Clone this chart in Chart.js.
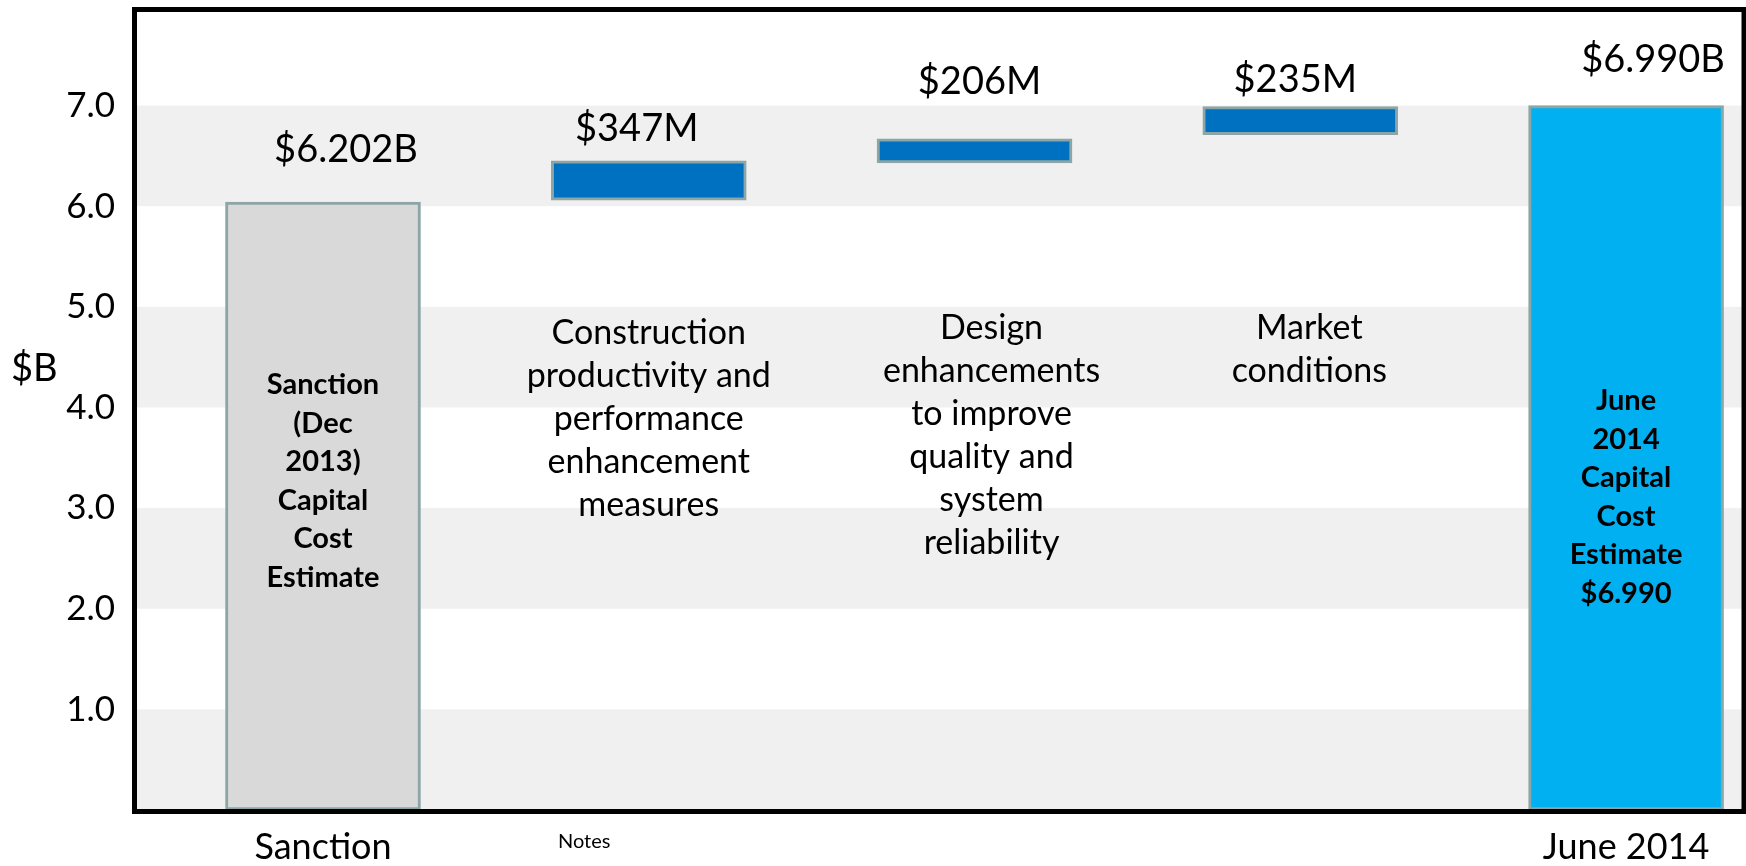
<!DOCTYPE html>
<html>
<head>
<meta charset="utf-8">
<script src="https://cdn.jsdelivr.net/npm/chart.js@4/dist/chart.umd.min.js"></script>
<style>
  html, body { margin: 0; background: #fff; overflow: hidden; }
  #wrap { width: 1746px; height: 866px; }
</style>
</head>
<body>
<div id="wrap"><canvas id="waterfall-chart"></canvas></div>
<script>
// bar positions on the x axis (0 = Sanction, 4 = June 2014)
const barSlots = [0, 1, 2, 3, 4];
const xTickLabels = ['Sanction', '', '', '', 'June 2014'];
// floating bars [low, high] in $B, as drawn
const barRanges = [[0, 6.04], [6.06, 6.45], [6.43, 6.67], [6.71, 6.99], [0, 7.0]];
const valueLabels = ['$6.202B', '$347M', '$206M', '$235M', '$6.990B'];
const insideLabels = [
    ['Sanction', '(Dec', '2013)', 'Capital', 'Cost', 'Estimate'],
    [], [], [],
    ['June', '2014', 'Capital', 'Cost', 'Estimate', '$6.990']
];
const descLabels = [
    [],
    ['Construction', 'productivity and', 'performance', 'enhancement', 'measures'],
    ['Design', 'enhancements', 'to improve', 'quality and', 'system', 'reliability'],
    ['Market', 'conditions'],
    []
];
const yTickValues = [1, 2, 3, 4, 5, 6, 7];

const FONT = 'Lato, "Open Sans", sans-serif';
const barFill = ['#d9d9d9', '#0070c0', '#0070c0', '#0070c0', '#00b0f0'];

// label placement tweaks (px, relative to the bar centre / top)
const valueOffsets = [[23, -52], [-12, -32], [5, -57], [-5, -27], [27, -46]];
const descOffsets = [[0, 0], [0, 333], [17, 328], [9, 328], [0, 0]];
const insideTop = [385, 0, 0, 0, 401];

const decorPlugin = {
    id: 'decor',
    beforeDatasetsDraw(chart) {
        const { ctx, scales: { x, y } } = chart;
        ctx.save();
        ctx.fillStyle = '#f0f0f0';
        // alternate grey bands: 0-1, 2-3, 4-5, 6-7
        [0].concat(yTickValues).forEach(v => {
            if (v % 2 === 0 && v < 7) {
                const top = y.getPixelForValue(v + 1);
                const bot = y.getPixelForValue(v);
                ctx.fillRect(x.left, top, x.right - x.left, bot - top);
            }
        });
        ctx.restore();
    },
    afterDatasetsDraw(chart) {
        const { ctx, scales: { x, y } } = chart;
        ctx.save();
        ctx.fillStyle = '#000';
        ctx.textAlign = 'center';
        ctx.textBaseline = 'middle';
        barSlots.forEach((slot, i) => {
            const cx = x.getPixelForValue(slot);
            const topPx = y.getPixelForValue(barRanges[i][1]);
            ctx.font = '38px ' + FONT;
            ctx.fillText(valueLabels[i], cx + valueOffsets[i][0], topPx + valueOffsets[i][1]);

            ctx.font = '34px ' + FONT;
            descLabels[i].forEach((line, k) => {
                ctx.fillText(line, cx + descOffsets[i][0], descOffsets[i][1] + k * 43);
            });

            ctx.font = 'bold 29px ' + FONT;
            insideLabels[i].forEach((line, k) => {
                ctx.fillText(line, cx, insideTop[i] + k * 38.5);
            });
        });

        // frame
        ctx.strokeStyle = '#000';
        ctx.lineWidth = 5;
        ctx.strokeRect(x.left - 1.5, y.top - 0.5, x.right - x.left + 1.5, y.bottom - y.top + 2);

        // y unit and notes
        ctx.font = '38px ' + FONT;
        ctx.textAlign = 'left';
        ctx.fillText('$B', 11, 369);
        ctx.font = '20px ' + FONT;
        ctx.fillText('Notes', 558, 842);
        ctx.restore();
    }
};

new Chart(document.getElementById('waterfall-chart').getContext('2d'), {
    type: 'bar',
    data: {
        datasets: [{
            data: barSlots.map((s, i) => ({ x: s, y: barRanges[i] })),
            backgroundColor: barFill,
            borderColor: '#8ca5a7',
            borderWidth: 3,
            borderSkipped: false,
            barThickness: 195
        }]
    },
    options: {
        responsive: true,
        maintainAspectRatio: false,
        animation: false,
        layout: { padding: { top: 10, right: 2, left: 0, bottom: 0 } },
        plugins: {
            legend: { display: false },
            tooltip: { enabled: false }
        },
        scales: {
            x: {
                type: 'linear',
                offset: false,
                min: -0.574,
                max: 4.362,
                grid: { display: false, drawTicks: false },
                border: { display: false },
                afterBuildTicks: s => { s.ticks = [{ value: 0 }, { value: 4 }]; },
                afterFit: s => { s.height = 56; s.paddingLeft = 0; s.paddingRight = 0; },
                ticks: {
                    padding: 16,
                    color: '#000',
                    font: { family: FONT, size: 36 },
                    callback: v => xTickLabels[v] || ''
                }
            },
            y: {
                min: 0,
                max: 7.95,
                grid: { display: false, drawTicks: false },
                border: { display: false },
                afterBuildTicks: s => { s.ticks = yTickValues.map(v => ({ value: v })); },
                afterFit: s => { s.width = 136; s.paddingTop = 0; s.paddingBottom = 0; },
                ticks: {
                    padding: 21,
                    color: '#000',
                    font: { family: FONT, size: 35 },
                    callback: v => v.toFixed(1)
                }
            }
        }
    },
    plugins: [decorPlugin]
});
</script>
</body>
</html>
